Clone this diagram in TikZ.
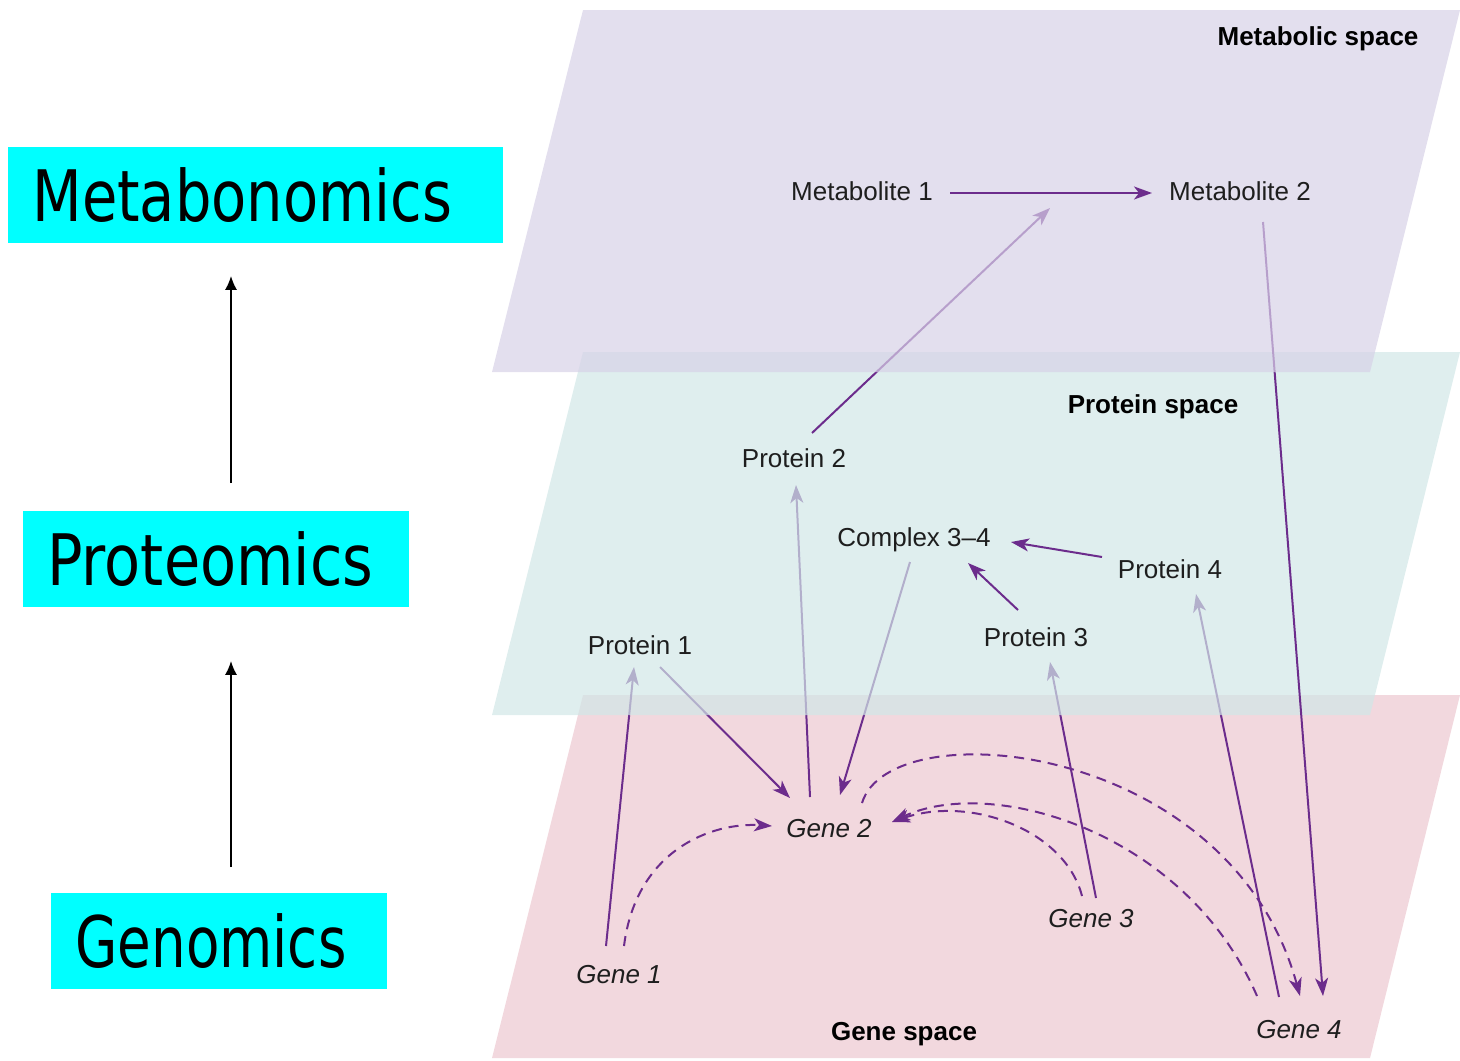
\documentclass[tikz,border=0pt]{standalone}
\usepackage{fontspec}
\setmainfont{Liberation Sans}
\newfontfamily\omicsfont{DejaVu Sans}
\usetikzlibrary{arrows.meta,calc}

\definecolor{omicscyan}{RGB}{0,255,255}
\definecolor{metfill}{RGB}{215,209,231}
\definecolor{protfill}{RGB}{209,231,231}
\definecolor{genefill}{RGB}{242,216,222}
\definecolor{linkpurple}{RGB}{108,44,140}
\definecolor{labelgray}{RGB}{30,30,30}

\pgfdeclarelayer{genelayer}
\pgfdeclarelayer{lowlinks}
\pgfdeclarelayer{protlayer}
\pgfdeclarelayer{midlinks}
\pgfdeclarelayer{metlayer}
\pgfsetlayers{genelayer,lowlinks,protlayer,midlinks,metlayer,main}

\tikzset{
  omics/.style={fill=omicscyan,inner xsep=12pt,inner ysep=0pt,minimum height=48pt,anchor=north west,
    font=\omicsfont\fontsize{35.5pt}{40pt}\selectfont},
  item/.style={inner sep=0pt,text depth=0pt,text=labelgray,font=\fontsize{13pt}{15pt}\selectfont},
  gene/.style={item,font=\fontsize{13pt}{15pt}\selectfont\itshape},
  spacelabel/.style={item,text=black,font=\fontsize{13pt}{15pt}\selectfont\bfseries},
  link/.style={linkpurple,line width=1pt,-{Stealth[length=9pt,width=6.5pt,inset=2.5pt]}},
  maybe/.style={link,dash pattern=on 5pt off 3.5pt},
  uparrow/.style={black,line width=1pt,-{Latex[length=7pt,width=6pt]}}
}

\begin{document}
\begin{tikzpicture}[x=0.5pt,y=-0.5pt]
\useasboundingbox (0,0) rectangle (1460,1060);

\path
(8,147) node[omics,text width=223.5pt] (metabo) {\scalebox{0.81}[1]{Metabonomics}}
(23,511) node[omics,text width=169pt] (proteo) {\scalebox{0.83}[1]{Proteomics}}
(51,893) node[omics,text width=144pt] (genom) {\scalebox{0.77}[1]{Genomics}}
;
\draw[uparrow,shorten <=13pt,shorten >=26.5pt] (genom.north -| 231,0) -- (proteo.south -| 231,0);
\draw[uparrow,shorten <=14pt,shorten >=16pt] (proteo.north -| 231,0) -- (metabo.south -| 231,0);

\begin{pgfonlayer}{genelayer}
\fill[genefill] (583,695) -- (1460,695) -- (1370,1058) -- (492,1058) -- cycle;
\end{pgfonlayer}
\begin{pgfonlayer}{protlayer}
\fill[protfill,fill opacity=0.7] (583,352) -- (1460,352) -- (1370,715) -- (492,715) -- cycle;
\end{pgfonlayer}
\begin{pgfonlayer}{metlayer}
\fill[metfill,fill opacity=0.7] (583,10) -- (1460,10) -- (1370,372) -- (492,372) -- cycle;
\end{pgfonlayer}

\path
(1318,36) node[spacelabel] (metsp) {Metabolic space}
(1153,404) node[spacelabel] (protsp) {Protein space}
(904,1031) node[spacelabel] (genesp) {Gene space}
(862,191) node[item] (met1) {Metabolite 1}
(1240,191) node[item] (met2) {Metabolite 2}
(794,458) node[item] (prot2) {Protein 2}
(914,537) node[item] (cplx) {Complex 3--4}
(1170,569) node[item] (prot4) {Protein 4}
(1036,637) node[item] (prot3) {Protein 3}
(640,645) node[item] (prot1) {Protein 1}
(829,828) node[gene] (gene2) {Gene 2}
(1091,918) node[gene] (gene3) {Gene 3}
(619,974) node[gene] (gene1) {Gene 1}
(1299,1029) node[gene] (gene4) {Gene 4}
;
\coordinate (metmid) at (1050,208);

\draw[link] ($(met1)+(88,2)$) -- ($(met2)+(-88,2)$);

\begin{pgfonlayer}{midlinks}
\draw[link] ($(prot2)+(18,-25)$) -- (metmid);
\draw[link] ($(met2)+(23,31)$) -- ($(gene4)+(24,-33)$);
\draw[link] ($(prot3)+(-18,-27)$) -- ($(cplx)+(54,26)$);
\draw[link] ($(prot4)+(-68,-12)$) -- ($(cplx)+(97,5)$);
\end{pgfonlayer}

\begin{pgfonlayer}{lowlinks}
\draw[link] ($(gene2)+(-19,-31)$) -- ($(prot2)+(2,27)$);
\draw[link] ($(cplx)+(-4,25)$) -- ($(gene2)+(11,-33)$);
\draw[link] ($(prot1)+(20,22)$) -- ($(gene2)+(-39,-30)$);
\draw[link] ($(gene1)+(-13,-28)$) -- ($(prot1)+(-6,22)$);
\draw[link] ($(gene3)+(5,-20)$) -- ($(prot3)+(14,25)$);
\draw[link] ($(gene4)+(-20,-32)$) -- ($(prot4)+(26,25)$);
\draw[maybe] ($(gene1)+(5,-28)$) .. controls +(12,-96) and +(-60,-4) .. ($(gene2)+(-57,-2)$);
\draw[maybe] ($(gene2)+(33,-25)$) .. controls +(28,-93) and +(-70,-256) .. ($(gene4)+(1,-33)$);
\draw[maybe] ($(gene3)+(-9,-22)$) .. controls +(-17,-66) and +(78,-27) .. ($(gene2)+(63,-6)$);
\draw[maybe] ($(gene4)+(-42,-33)$) .. controls +(-72,-166) and +(98,-47) .. ($(gene2)+(63,-6)$);
\end{pgfonlayer}
\end{tikzpicture}
\end{document}
